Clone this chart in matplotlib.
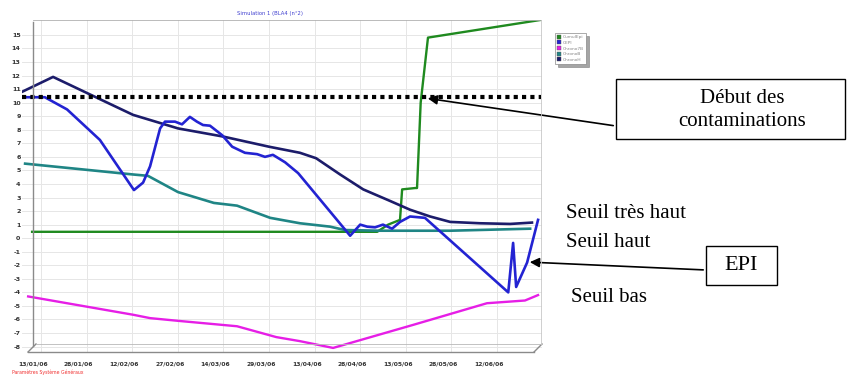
import matplotlib.pyplot as plt
import numpy as np
from matplotlib.patches import Rectangle, FancyArrowPatch
from matplotlib.lines import Line2D

plt.rcParams['axes.unicode_minus'] = False

# days counted from 13/01/06
date_labels = ['13/01/06', '28/01/06', '12/02/06', '27/02/06', '14/03/06', '29/03/06',
               '13/04/06', '28/04/06', '13/05/06', '28/05/06', '12/06/06']
date_days = [0, 15, 30, 45, 60, 75, 90, 105, 120, 135, 150]

cumul_days = [-0.3, 113.2, 116.8, 120.7, 121.4, 125.7, 126.3, 127.5, 129.9, 166.8]
cumul_vals = [0.47, 0.47, 1.0, 1.35, 3.6, 3.7, 3.7, 10.0, 14.8, 16.1]

cepi_days = [-2.6, 3.9, 11.2, 22.0, 33.2, 36.2, 38.5, 41.8, 43.4, 46.7, 49.0, 51.6, 53.9,
             55.9, 58.2, 62.2, 65.5, 69.7, 73.7, 76.3, 78.9, 82.9, 87.2, 104.3, 107.6,
             109.9, 112.5, 115.1, 118.1, 120.7, 124.0, 128.9, 156.3, 157.9, 158.9, 162.5, 166.1]
cepi_vals = [10.4, 10.4, 9.5, 7.25, 3.55, 4.1, 5.3, 8.1, 8.6, 8.6, 8.4, 8.95, 8.6,
             8.35, 8.3, 7.6, 6.75, 6.3, 6.2, 6.0, 6.15, 5.6, 4.8, 0.18, 1.0,
             0.85, 0.8, 1.0, 0.7, 1.2, 1.6, 1.5, -4.0, -0.35, -3.6, -1.8, 1.35]

bas_days = [-1.6, 32.9, 38.5, 47.7, 67.1, 80.0, 87.8, 98.7, 125.0, 149.3, 161.8, 166.1]
bas_vals = [-4.3, -5.65, -5.9, -6.1, -6.5, -7.3, -7.6, -8.1, -6.4, -4.8, -4.6, -4.2]

haut_days = [-2.6, 32.9, 37.8, 47.7, 59.5, 67.1, 78.0, 87.8, 97.7, 102.6, 114.1, 137.2, 163.5]
haut_vals = [5.5, 4.7, 4.6, 3.4, 2.6, 2.4, 1.5, 1.1, 0.85, 0.6, 0.55, 0.55, 0.7]

thaut_days = [-3.6, 6.6, 18.8, 32.9, 47.7, 62.5, 77.6, 87.8, 93.1, 101.0, 108.6, 117.4,
              124.0, 130.6, 137.2, 147.0, 156.9, 164.1]
thaut_vals = [10.8, 11.9, 10.6, 9.1, 8.1, 7.5, 6.75, 6.3, 5.9, 4.7, 3.6, 2.75,
              2.1, 1.6, 1.2, 1.1, 1.05, 1.15]

contamination_level = 10.43

series_names = ['CumulEpi', 'CEPI', 'Chrono7B', 'ChronoB', 'ChronoH']
series_colors = ['#1f8a1f', '#2323d2', '#e61ee6', '#1f8585', '#1c1c6a']

W, H = 864, 383
fig = plt.figure(figsize=(W / 100, H / 100), dpi=100)


def fx(px):
    return px / W


def fy(py):
    return 1 - py / H


ax = fig.add_axes([fx(22), fy(352), fx(542) - fx(22), fy(20) - fy(352)])
ax.set_xlim(-3.62, 167.4)
ax.set_ylim(-8.4, 16.1)

# grid (back wall is offset a little to the right)
for v in range(-8, 16):
    ax.axhline(v, color='#e6e6e6', lw=0.7, zorder=0)
for d in date_days:
    ax.axvline(d + 2.6, color='#e6e6e6', lw=0.7, zorder=0)

ax.plot(cumul_days, cumul_vals, color=series_colors[0], lw=1.7)
ax.plot(haut_days, haut_vals, color=series_colors[3], lw=1.9)
ax.plot(bas_days, bas_vals, color=series_colors[2], lw=1.7)
ax.plot(thaut_days, thaut_vals, color=series_colors[4], lw=1.9)
ax.plot(cepi_days, cepi_vals, color=series_colors[1], lw=1.9)

ax.plot([-3.62, 167.0], [contamination_level, contamination_level], color='black',
        lw=3, linestyle=(0, (1, 1)), solid_capstyle='butt', dash_capstyle='butt')

for s in ['top', 'right', 'bottom', 'left']:
    ax.spines[s].set_visible(False)
ax.set_xticks(date_days)
ax.set_xticklabels(date_labels)
ax.set_yticks(range(-8, 16))
ax.tick_params(axis='x', length=0, labelsize=4.3, pad=7, colors='#333333')
ax.tick_params(axis='y', length=0, labelsize=4.6, pad=1, colors='#333333')
for lab in ax.get_xticklabels() + ax.get_yticklabels():
    lab.set_fontweight('bold')

# pseudo 3D frame: left wall, floor
frame = dict(color='#8a8a8a', lw=1.0, transform=fig.transFigure, clip_on=False)
fig.add_artist(Line2D([fx(33), fx(33)], [fy(22), fy(346)], **frame))
fig.add_artist(Line2D([fx(33), fx(541)], [fy(20), fy(20)], color='#b0b0b0', lw=0.6,
                      transform=fig.transFigure))
fig.add_artist(Line2D([fx(28), fx(534)], [fy(352), fy(352)], **frame))
fig.add_artist(Line2D([fx(28), fx(36)], [fy(352), fy(344)], **frame))
fig.add_artist(Line2D([fx(534), fx(542)], [fy(352), fy(344)], **frame))
fig.add_artist(Line2D([fx(36), fx(542)], [fy(344), fy(344)], color='#b8b8b8', lw=0.6,
                      transform=fig.transFigure))
fig.add_artist(Line2D([fx(541), fx(541)], [fy(20), fy(344)], color='#c8c8c8', lw=0.6,
                      transform=fig.transFigure))

fig.text(fx(270), fy(13), 'Simulation 1 (BLA4 (n°2)', color='#4040d0', fontsize=3.8,
         ha='center', va='center')
fig.text(fx(12), fy(372), 'Paramètres Système Généraux', color='#f03030', fontsize=3.3,
         ha='left', va='center')

handles = [Line2D([], [], marker='s', linestyle='none', markersize=3.2,
                  markerfacecolor=c, markeredgecolor='#555555', markeredgewidth=0.3)
           for c in series_colors]
leg = fig.legend(handles, series_names, loc='upper left',
                 bbox_to_anchor=(fx(555), fy(33)), fontsize=3.2, frameon=True,
                 fancybox=False, shadow=True, handlelength=0.8, handletextpad=0.4,
                 borderpad=0.5, labelspacing=0.35, borderaxespad=0)
leg.get_frame().set_edgecolor('#888888')
leg.get_frame().set_linewidth(0.5)
for t in leg.get_texts():
    t.set_color('#888888')

serif = 'Liberation Serif'

# "Début des contaminations" callout
fig.add_artist(Rectangle((fx(616), fy(139)), fx(845) - fx(616), fy(79) - fy(139),
                         transform=fig.transFigure, fill=False, ec='black', lw=1.0))
fig.text(fx(742), fy(110), 'Début des\ncontaminations', family=serif, fontsize=15,
         ha='center', va='center', linespacing=1.25)
fig.add_artist(FancyArrowPatch((fx(616), fy(126)), (fx(425), fy(98)),
                               transform=fig.transFigure, arrowstyle='-|>',
                               mutation_scale=14, color='black', lw=1.2))

# EPI callout
fig.add_artist(Rectangle((fx(706), fy(285)), fx(777) - fx(706), fy(246) - fy(285),
                         transform=fig.transFigure, fill=False, ec='black', lw=1.0))
fig.text(fx(741.5), fy(266), 'EPI', family=serif, fontsize=16, ha='center', va='center')
fig.add_artist(FancyArrowPatch((fx(706), fy(270)), (fx(527), fy(262)),
                               transform=fig.transFigure, arrowstyle='-|>',
                               mutation_scale=14, color='black', lw=1.2))

fig.text(fx(566), fy(213), 'Seuil très haut', family=serif, fontsize=15,
         ha='left', va='center')
fig.text(fx(566), fy(242), 'Seuil haut', family=serif, fontsize=15,
         ha='left', va='center')
fig.text(fx(571), fy(298), 'Seuil bas', family=serif, fontsize=15,
         ha='left', va='center')

fig.savefig('out.png', dpi=100)
